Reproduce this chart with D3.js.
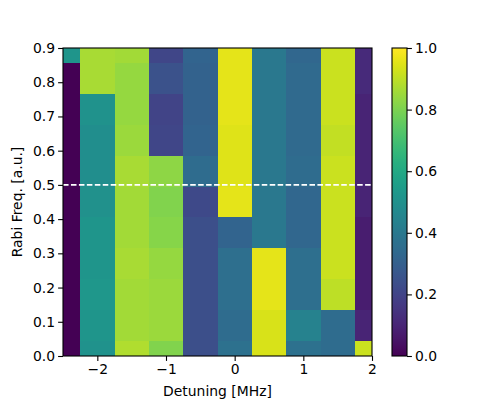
<!DOCTYPE html>
<html>
<head>
<meta charset="utf-8">
<script src="https://cdn.jsdelivr.net/npm/d3@7"></script>
<style>
  html, body { margin: 0; padding: 0; background: #fff; }
  svg { display: block; }
  text { font-family: "DejaVu Sans", sans-serif; }
</style>
</head>
<body>
<svg id="chart" width="500" height="400"></svg>
<script>
// Detuning centers (MHz)
const detuning = [-2.5, -2, -1.5, -1, -0.5, 0, 0.5, 1, 1.5, 2];
// Rabi frequency centers, top row first
const rabi = [0.9, 0.81, 0.72, 0.63, 0.54, 0.45, 0.36, 0.27, 0.18, 0.09, 0.0];
// Cell values, one row per Rabi frequency (top to bottom), columns follow detuning
const row090 = [0.52, 0.87, 0.86, 0.21, 0.32, 0.96, 0.40, 0.33, 0.92, 0.12];
const row081 = [0.00, 0.87, 0.84, 0.25, 0.31, 0.96, 0.40, 0.34, 0.92, 0.12];
const row072 = [0.00, 0.51, 0.84, 0.20, 0.31, 0.96, 0.40, 0.34, 0.92, 0.10];
const row063 = [0.00, 0.49, 0.85, 0.21, 0.32, 0.95, 0.40, 0.34, 0.91, 0.10];
const row054 = [0.00, 0.49, 0.87, 0.83, 0.35, 0.95, 0.40, 0.35, 0.92, 0.10];
const row045 = [0.00, 0.50, 0.86, 0.81, 0.22, 0.96, 0.40, 0.33, 0.92, 0.10];
const row036 = [0.00, 0.52, 0.86, 0.82, 0.24, 0.32, 0.40, 0.33, 0.92, 0.08];
const row027 = [0.00, 0.52, 0.87, 0.84, 0.24, 0.36, 0.96, 0.36, 0.92, 0.08];
const row018 = [0.00, 0.53, 0.86, 0.85, 0.24, 0.36, 0.96, 0.36, 0.90, 0.08];
const row009 = [0.00, 0.52, 0.86, 0.85, 0.24, 0.35, 0.94, 0.44, 0.35, 0.10];
const row000 = [0.00, 0.51, 0.88, 0.81, 0.24, 0.37, 0.94, 0.37, 0.35, 0.92];
const values = [row090, row081, row072, row063, row054, row045, row036, row027, row018, row009, row000];
const xTicks = [-2, -1, 0, 1, 2];
const yTicks = [0, 0.1, 0.2, 0.3, 0.4, 0.5, 0.6, 0.7, 0.8, 0.9];
const cbTicks = [0, 0.2, 0.4, 0.6, 0.8, 1.0];
const hLine = 0.5;

const svg = d3.select("#chart");
const L = 63, R = 372, T = 48, B = 356;
const x = d3.scaleLinear([-2.5, 2], [L, R]);
const y = d3.scaleLinear([0, 0.9], [B, T]);
const color = d3.scaleSequential(d3.interpolateViridis).domain([0, 1]);
const dx = 0.25, dy = 0.045;
const clampX = v => Math.max(-2.5, Math.min(2, v));
const clampY = v => Math.max(0, Math.min(0.9, v));

const cells = [];
rabi.forEach((r, j) => detuning.forEach((d, i) => cells.push({ d, r, v: values[j][i] })));

svg.append("g").selectAll("rect").data(cells).join("rect")
  .attr("x", c => x(clampX(c.d - dx)))
  .attr("width", c => x(clampX(c.d + dx)) - x(clampX(c.d - dx)))
  .attr("y", c => y(clampY(c.r + dy)))
  .attr("height", c => y(clampY(c.r - dy)) - y(clampY(c.r + dy)))
  .attr("fill", c => color(c.v))
  .attr("shape-rendering", "crispEdges");

// dashed line
svg.append("line")
  .attr("x1", x(-2.5)).attr("x2", x(2))
  .attr("y1", y(hLine)).attr("y2", y(hLine))
  .attr("stroke", "white").attr("stroke-width", 1.6)
  .attr("stroke-dasharray", "5.55,2.4");

// axes
const fs = "13.9px";
const xAxis = svg.append("g").attr("transform", `translate(0,${B})`)
  .call(d3.axisBottom(x).tickValues(xTicks).tickSize(4.9).tickSizeOuter(0)
    .tickFormat(v => (v < 0 ? "\u2212" : "") + Math.abs(v)));
const yAxis = svg.append("g").attr("transform", `translate(${L},0)`)
  .call(d3.axisLeft(y).tickValues(yTicks).tickSize(4.9).tickSizeOuter(0).tickFormat(d3.format(".1f")));
[xAxis, yAxis].forEach(a => {
  a.select(".domain").remove();
  a.selectAll(".tick line").attr("stroke", "black").attr("stroke-width", 1.1);
  a.selectAll(".tick text").attr("fill", "black").style("font-size", fs).style("font-family", "DejaVu Sans");
});
xAxis.selectAll(".tick text").attr("dy", "0.75em").attr("y", 8);
yAxis.selectAll(".tick text").attr("x", -8);

svg.append("rect").attr("x", L).attr("y", T).attr("width", R - L).attr("height", B - T)
  .attr("fill", "none").attr("stroke", "black").attr("stroke-width", 1.1);

svg.append("text").attr("x", (L + R) / 2).attr("y", 396).attr("text-anchor", "middle")
  .style("font-size", fs).text("Detuning [MHz]");
svg.append("text").attr("transform", `translate(22,${(T + B) / 2}) rotate(-90)`)
  .attr("text-anchor", "middle").style("font-size", fs).text("Rabi Freq. [a.u.]");

// colorbar
const cbL = 392, cbR = 407;
const cy = d3.scaleLinear([0, 1], [B, T]);
const grad = svg.append("defs").append("linearGradient")
  .attr("id", "cbgrad").attr("x1", 0).attr("y1", 1).attr("x2", 0).attr("y2", 0);
grad.selectAll("stop").data(d3.range(0, 65).map(i => i / 64)).join("stop")
  .attr("offset", s => s).attr("stop-color", s => color(s));
svg.append("rect").attr("x", cbL).attr("y", T).attr("width", cbR - cbL).attr("height", B - T)
  .attr("fill", "url(#cbgrad)").attr("stroke", "black").attr("stroke-width", 1.1);
const cAxis = svg.append("g").attr("transform", `translate(${cbR},0)`)
  .call(d3.axisRight(cy).tickValues(cbTicks).tickSize(4.9).tickSizeOuter(0).tickFormat(d3.format(".1f")));
cAxis.select(".domain").remove();
cAxis.selectAll(".tick line").attr("stroke", "black").attr("stroke-width", 1.1);
cAxis.selectAll(".tick text").attr("fill", "black").attr("x", 8).style("font-size", fs).style("font-family", "DejaVu Sans");
</script>
</body>
</html>
